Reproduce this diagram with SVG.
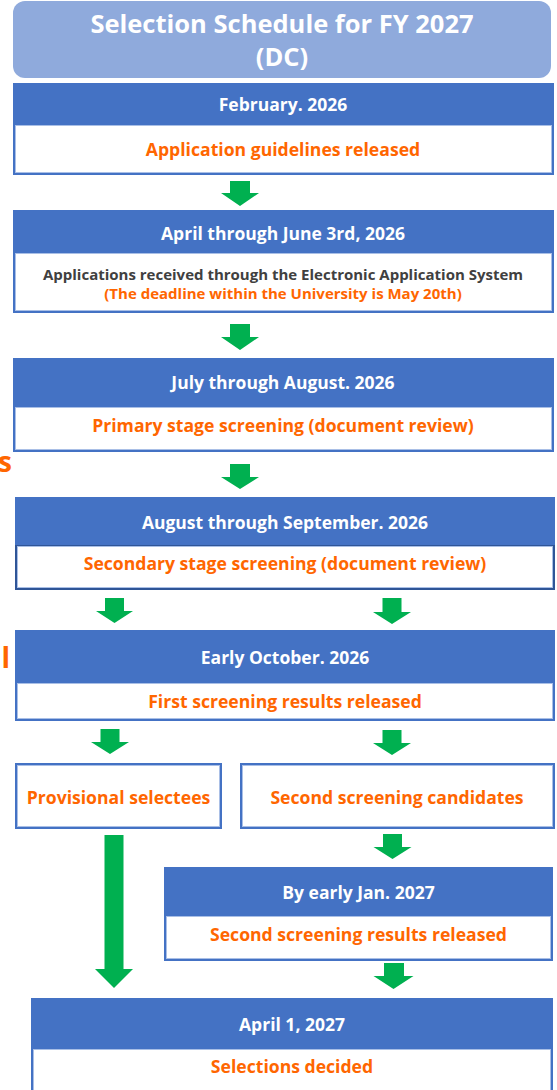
<svg xmlns="http://www.w3.org/2000/svg" width="557" height="1090" viewBox="0 0 557 1090">
<style>
text{font-family:"Open Sans","Noto Sans","Liberation Sans",sans-serif;font-weight:bold;text-anchor:middle}
.title{fill:#fff;font-size:25.5px}
.hd{fill:#4472C4}
.hdt{fill:#fff;font-size:17.5px}
.body{fill:#fff;stroke:#4472C4;stroke-width:2}
.inner{fill:none;stroke:#A9BFE6;stroke-width:1}
.or{fill:#FF6600;font-size:17.6px}
.dk{fill:#404040;font-size:15px}
.or2{fill:#FF6600;font-size:15px}
.arr{fill:#00B050}
</style>
<rect x="0" y="0" width="557" height="1090" fill="#fff"/>
<g id="title">
<rect x="13" y="1" width="538" height="77" rx="12" fill="#8FAADC"/>
<text class="title" x="282" y="33">Selection Schedule for FY 2027</text>
<text class="title" x="282" y="66">(DC)</text>
</g>
<g id="stray">
<text class="or" style="font-size:28px;text-anchor:end" x="12" y="472">s</text>
<text class="or" style="font-size:28px;text-anchor:end" x="10" y="668">al</text>
</g>
<g id="n1">
<rect class="hd" x="13" y="83" width="541" height="42"/>
<rect class="body" x="14" y="125" width="539" height="49"/>
<rect class="inner" x="15.5" y="125.5" width="536" height="47"/>
<text class="hdt" x="283" y="111">February. 2026</text>
<text class="or" x="283" y="156">Application guidelines released</text>
</g>
<g id="n2">
<rect class="hd" x="13" y="210" width="541" height="43"/>
<rect class="body" x="14" y="253" width="539" height="59"/>
<rect class="inner" x="15.5" y="253.5" width="536" height="57"/>
<text class="hdt" x="283" y="240">April through June 3rd, 2026</text>
<text class="dk" x="283" y="280">Applications received through the Electronic Application System</text>
<text class="or2" x="283" y="299">(The deadline within the University is May 20th)</text>
</g>
<g id="n3">
<rect class="hd" x="13" y="358" width="541" height="49"/>
<rect class="body" x="14" y="407" width="539" height="44"/>
<rect class="inner" x="15.5" y="407.5" width="536" height="42"/>
<text class="hdt" x="283" y="389">July through August. 2026</text>
<text class="or" x="283" y="432">Primary stage screening (document review)</text>
</g>
<g id="n4">
<rect class="hd" x="15" y="497" width="540" height="49"/>
<rect class="body" x="16" y="546" width="538" height="43" style="stroke:#2F5597"/>
<rect class="inner" x="17.5" y="546.5" width="535" height="41"/>
<text class="hdt" x="285" y="529">August through September. 2026</text>
<text class="or" x="285" y="570">Secondary stage screening (document review)</text>
</g>
<g id="n5">
<rect class="hd" x="15" y="630" width="540" height="53"/>
<rect class="body" x="16" y="683" width="538" height="37"/>
<rect class="inner" x="17.5" y="683.5" width="535" height="35"/>
<text class="hdt" x="285" y="664">Early October. 2026</text>
<text class="or" x="285" y="708">First screening results released</text>
</g>
<g id="n6">
<rect class="body" x="16" y="764" width="205" height="64"/>
<rect class="inner" x="17.5" y="765.5" width="202" height="61"/>
<text class="or" x="118.5" y="804">Provisional selectees</text>
</g>
<g id="n7">
<rect class="body" x="241" y="764" width="313" height="64"/>
<rect class="inner" x="242.5" y="765.5" width="310" height="61"/>
<text class="or" x="397" y="804">Second screening candidates</text>
</g>
<g id="n8">
<rect class="hd" x="164" y="867" width="389" height="49"/>
<rect class="body" x="165" y="916" width="387" height="44"/>
<rect class="inner" x="166.5" y="916.5" width="384" height="42"/>
<text class="hdt" x="358.5" y="899">By early Jan. 2027</text>
<text class="or" x="358.5" y="941">Second screening results released</text>
</g>
<g id="n9">
<rect class="hd" x="31" y="998" width="522" height="51"/>
<rect class="body" x="32" y="1049" width="520" height="50"/>
<rect class="inner" x="33.5" y="1049.5" width="517" height="50"/>
<text class="hdt" x="292" y="1031">April 1, 2027</text>
<text class="or" x="292" y="1073">Selections decided</text>
</g>
<g id="connectors">
<path class="arr" d="M230,181H250V193H259L240,206L221,193H230Z"/>
<path class="arr" d="M230,324H250V337H259L240,350L221,337H230Z"/>
<path class="arr" d="M230,464H250V477H259L240,489L221,477H230Z"/>
<path class="arr" d="M105,598H124V611H133L114.5,623L96,611H105Z"/>
<path class="arr" d="M382.5,598H401.5V612H411L392,624L373,612H382.5Z"/>
<path class="arr" d="M100.5,729H119.5V742H129L110,754L91,742H100.5Z"/>
<path class="arr" d="M382.5,730H401.5V743H411L392,755L373,743H382.5Z"/>
<path class="arr" d="M104.5,835H123.5V969H133L114,988L95,969H104.5Z"/>
<path class="arr" d="M383,834H402V847H411.5L392.5,859L373.5,847H383Z"/>
<path class="arr" d="M384,963H404V976H413.5L393.5,989L373.5,976H384Z"/>
</g>
</svg>
